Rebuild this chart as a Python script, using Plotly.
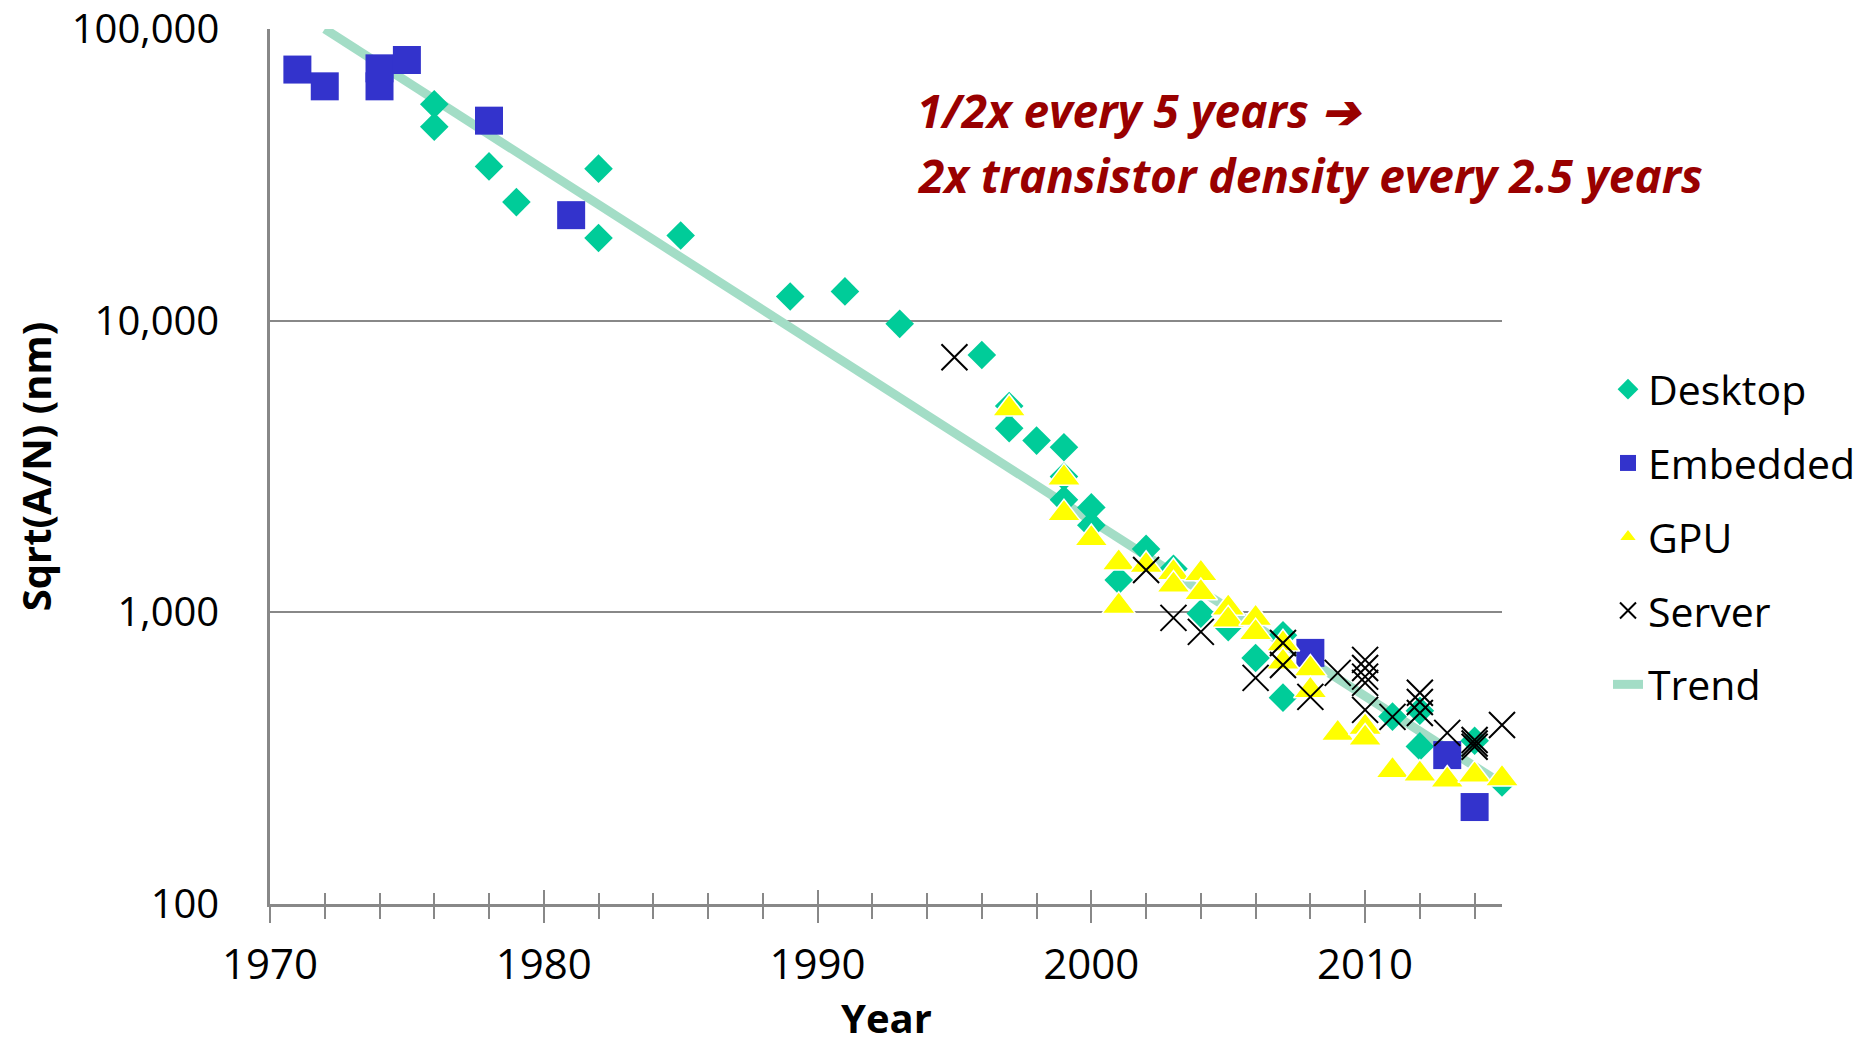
import plotly.graph_objects as go

# ---------------- data ----------------
desktop_years = [1976, 1976, 1978, 1979, 1982, 1982, 1985, 1989, 1991, 1993, 1996,
                 1997, 1997, 1998, 1999, 1999, 1999, 2000, 2000, 2001, 2002, 2003,
                 2004, 2005, 2006, 2007, 2007, 2011, 2012, 2012, 2014, 2015]
desktop_vals = [55200, 46200, 33800, 25500, 33200, 19200, 19600, 12100, 12600, 9750, 7630,
                5100, 4280, 3880, 3680, 2920, 2430, 2290, 1990, 1290, 1650, 1410,
                990, 890, 697, 834, 510, 439, 460, 347, 363, 261]

embedded_years = [1971, 1972, 1974, 1974, 1975, 1978, 1981, 2008, 2013, 2014]
embedded_vals = [72600, 63600, 73300, 63600, 78300, 48500, 23000, 726, 324, 215]

gpu_years = [1997, 1999, 1999, 2000, 2001, 2001, 2002, 2003, 2003, 2004, 2004, 2005, 2005,
             2006, 2006, 2007, 2007, 2008, 2008, 2009, 2010, 2010, 2011, 2012, 2013, 2014, 2015]
gpu_vals = [4990, 2890, 2180, 1790, 1480, 1050, 1450, 1370, 1240, 1360, 1170, 1035, 942,
            955, 852, 780, 676, 640, 540, 385, 404, 371, 287, 279, 266, 277, 269]

server_years = [1995, 2002, 2003, 2004, 2006, 2007, 2007, 2008, 2009, 2010, 2010, 2010,
                2010, 2010, 2011, 2012, 2012, 2012, 2013, 2014, 2014, 2014, 2015]
server_vals = [7490, 1397, 957, 857, 596, 785, 660, 513, 620, 687, 644, 602,
               573, 463, 438, 530, 493, 452, 386, 365, 346, 355, 411]

trend_years = [1972, 2015]
trend_vals = [100000, 258]

y_tick_vals = [100, 1000, 10000, 100000]
y_tick_text = ["100", "1,000", "10,000", "100,000"]
x_tick_vals = [1970, 1980, 1990, 2000, 2010]

annotation_lines = ["1/2x every 5 years \u2794", "2x transistor density every 2.5 years"]

# ---------------- figure ----------------
W, H = 1872, 1048
ML, MR, MT, MB = 270, 370, 29, 144
PW, PH = W - ML - MR, H - MT - MB

FONT = "Open Sans"
fig = go.Figure()

fig.add_trace(go.Scatter(
    x=trend_years, y=trend_vals, mode="lines", name="Trend",
    line=dict(color="#A3DDC6", width=9), legendrank=5, legendgroup="e"))

fig.add_trace(go.Scatter(
    x=desktop_years, y=desktop_vals, mode="markers", name="Desktop",
    marker=dict(symbol="diamond", size=22, color="#00CC99", line=dict(width=0)),
    legendrank=1, legendgroup="a", cliponaxis=False))

fig.add_trace(go.Scatter(
    x=embedded_years, y=embedded_vals, mode="markers", name="Embedded",
    marker=dict(symbol="square", size=28, color="#3333CC", line=dict(width=0)),
    legendrank=2, legendgroup="b", cliponaxis=False))

fig.add_trace(go.Scatter(
    x=gpu_years, y=gpu_vals, mode="markers", name="GPU",
    marker=dict(symbol="triangle-up", size=29, color="#FFFF00",
                line=dict(width=1.5, color="white")),
    legendrank=3, legendgroup="c", cliponaxis=False))

fig.add_trace(go.Scatter(
    x=server_years, y=server_vals, mode="markers", name="Server",
    xaxis="x2",
    marker=dict(symbol="x-thin", size=26, color="black",
                line=dict(width=2, color="black")),
    legendrank=4, legendgroup="d", cliponaxis=False))

axis_grey = "#888888"

fig.update_layout(
    width=W, height=H,
    margin=dict(l=ML, r=MR, t=MT, b=MB, autoexpand=False),
    paper_bgcolor="white", plot_bgcolor="white",
    font=dict(family=FONT, color="black", size=40),
    showlegend=True,
    legend=dict(
        x=(1608 - ML) / PW, xanchor="left",
        y=(H - MB - 356) / PH, yanchor="top",
        font=dict(family=FONT, size=41, color="black"),
        tracegroupgap=17.5, itemwidth=30,
        bgcolor="rgba(0,0,0,0)",
    ),
    xaxis=dict(
        range=[1970, 2015], tickvals=x_tick_vals, ticks="outside", ticklen=16,
        tickwidth=1.5, tickcolor=axis_grey,
        minor=dict(dtick=2, tick0=1970, ticks="outside", ticklen=12,
                   tickwidth=1.5, tickcolor=axis_grey),
        showline=True, linecolor=axis_grey, linewidth=2.5,
        showgrid=False, zeroline=False,
        tickfont=dict(family=FONT, size=42), ticklabelstandoff=6,
        automargin=False,
    ),
    xaxis2=dict(
        range=[1970, 2015], overlaying="x", anchor="y", side="bottom",
        tickvals=x_tick_vals, ticks="inside", ticklen=14, tickwidth=1.5,
        tickcolor=axis_grey, showticklabels=False,
        minor=dict(dtick=2, tick0=1970, ticks="inside", ticklen=11,
                   tickwidth=1.5, tickcolor=axis_grey),
        showline=False, showgrid=False, zeroline=False, automargin=False,
    ),
    yaxis=dict(
        type="log", range=[2, 5], tickvals=y_tick_vals, ticktext=y_tick_text,
        ticks="", showgrid=True, gridcolor=axis_grey, gridwidth=1.5,
        showline=True, linecolor=axis_grey, linewidth=2.5, zeroline=False,
        tickfont=dict(family=FONT, size=40), ticklabelstandoff=40,
        ticklabeloverflow="allow",
        title=dict(text="<b>Sqrt(A/N) (nm)</b>", font=dict(family=FONT, size=40),
                   standoff=8),
        automargin=False,
    ),
)

# x-axis title placed as annotation for exact positioning
fig.add_annotation(
    xref="paper", yref="paper", x=0.5, y=(H - MB - 1046) / PH,
    xanchor="center", yanchor="bottom", showarrow=False, borderpad=0,
    text="<b>Year</b>", font=dict(family=FONT, size=40, color="black"),
)

ann_y = [110, 175]
for txt, yy in zip(annotation_lines, ann_y):
    fig.add_annotation(
        xref="paper", yref="paper",
        x=(915 - ML) / PW, y=(H - MB - yy) / PH,
        xanchor="left", yanchor="middle", showarrow=False,
        text="<b><i>" + txt + "</i></b>",
        font=dict(family=FONT, size=46, color="#990000"),
    )

fig.write_html("out.html")
